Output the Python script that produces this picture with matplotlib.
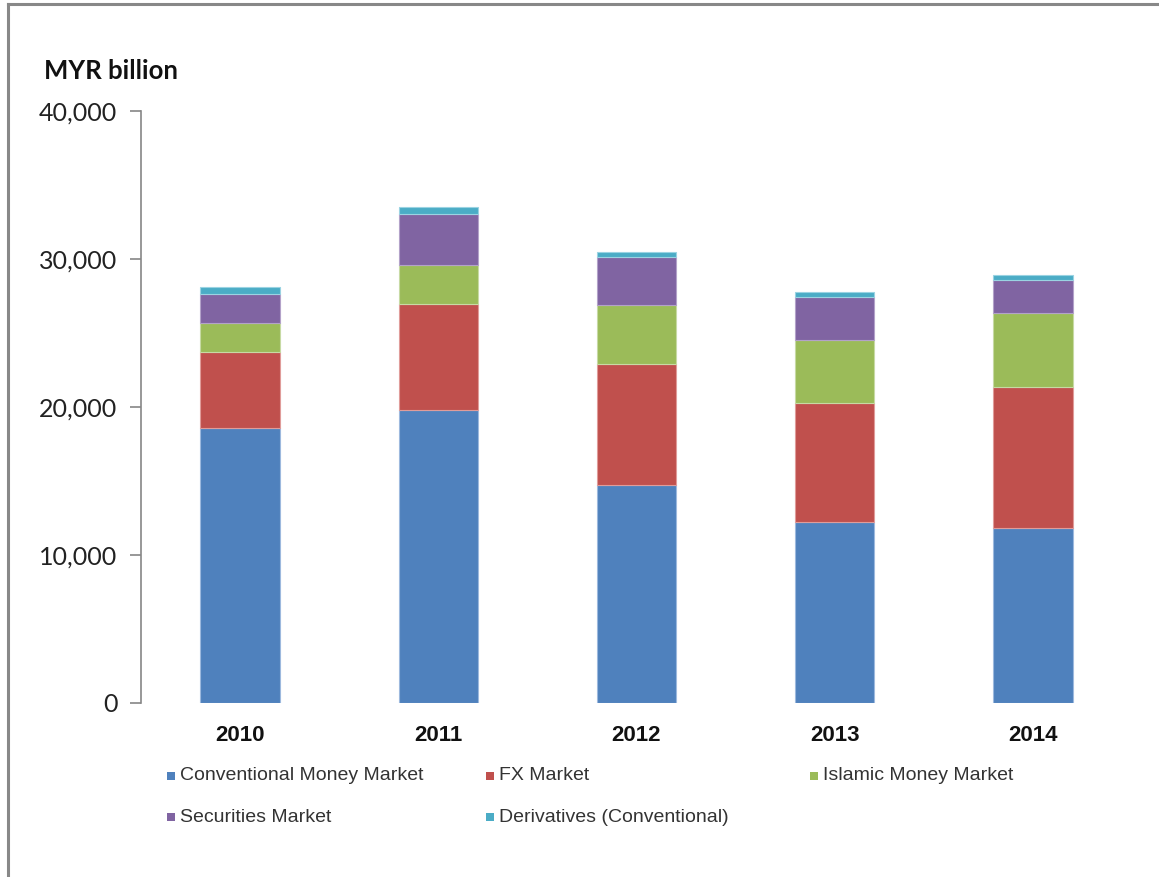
import numpy as np
import matplotlib
matplotlib.use("Agg")
import matplotlib.pyplot as plt
from matplotlib.lines import Line2D
from matplotlib.patches import Rectangle
from matplotlib.ticker import FuncFormatter

# data (MYR billion)
years = ["2010", "2011", "2012", "2013", "2014"]
conventional_mm = [18560, 19800, 14730, 12230, 11810]
fx_market = [5170, 7160, 8200, 8060, 9520]
islamic_mm = [1950, 2640, 3930, 4240, 5000]
securities = [1970, 3440, 3300, 2920, 2270]
derivatives = [430, 470, 310, 340, 340]

series_names = ["Conventional Money Market", "FX Market", "Islamic Money Market",
                "Securities Market", "Derivatives (Conventional)"]
colors = ["#4F81BD", "#C0504D", "#9BBB59", "#8064A2", "#4BACC6"]
edges = ["#9DB9DE", "#E09C9A", "#C7DAA4", "#B3A2C9", "#9AD3E2"]

W, H = 1159, 877
fig = plt.figure(figsize=(W / 100, H / 100), dpi=100)
ax = fig.add_axes([141 / W, 1 - 703 / H, (1132 - 141) / W, (703 - 111) / H])

x = np.arange(len(years))
bottom = np.zeros(len(years))
for vals, name, c, ec in zip([conventional_mm, fx_market, islamic_mm, securities, derivatives],
                             series_names, colors, edges):
    ax.bar(x, vals, width=0.4, bottom=bottom, color=c, edgecolor=ec,
           linewidth=0.8, label=name)
    bottom += np.array(vals)

ax.set_xlim(-0.5, len(years) - 0.5)
ax.set_ylim(0, 40000)
ax.set_yticks([0, 10000, 20000, 30000, 40000])
ax.yaxis.set_major_formatter(FuncFormatter(lambda v, p: f"{int(v):,}"))
ax.set_xticks(x)
ax.set_xticklabels(years, fontfamily="Liberation Sans", fontweight="bold", fontsize=16)

for s in ["top", "right", "bottom"]:
    ax.spines[s].set_visible(False)
ax.spines["left"].set_color("#868686")
ax.spines["left"].set_linewidth(1.2)
ax.tick_params(axis="y", length=8, width=1.2, color="#868686", pad=9,
               labelsize=18, labelcolor="#222222")
for t in ax.get_yticklabels():
    t.set_fontfamily("Lato")
ax.tick_params(axis="x", length=0, pad=16, labelcolor="#111111")

fig.text(44 / W, 1 - 71 / H, "MYR billion", fontfamily="Lato", fontweight="bold",
         fontsize=18.5, va="center", ha="left", color="#111111")

# legend laid out like Excel: equal columns, 3 per row
col_x = [167, 486, 810]
row_y = [776, 817]
for i, (name, c) in enumerate(zip(series_names, colors)):
    cx = col_x[i % 3]
    cy = row_y[i // 3]
    fig.add_artist(Rectangle((cx / W, 1 - (cy + 4) / H), 8 / W, 8 / H,
                             transform=fig.transFigure, facecolor=c, edgecolor="none"))
    fig.text((cx + 13) / W, 1 - cy / H, name, fontfamily="Liberation Sans", fontsize=14,
             va="center", ha="left", color="#333333")

# outer frame (left and top edges only visible)
fig.add_artist(Line2D([8 / W, 8 / W], [0, 1 - 4 / H], transform=fig.transFigure,
                      color="#888888", linewidth=2.2))
fig.add_artist(Line2D([8 / W, 1], [1 - 4 / H, 1 - 4 / H], transform=fig.transFigure,
                      color="#888888", linewidth=2.2))

fig.savefig("out.png", dpi=100)
